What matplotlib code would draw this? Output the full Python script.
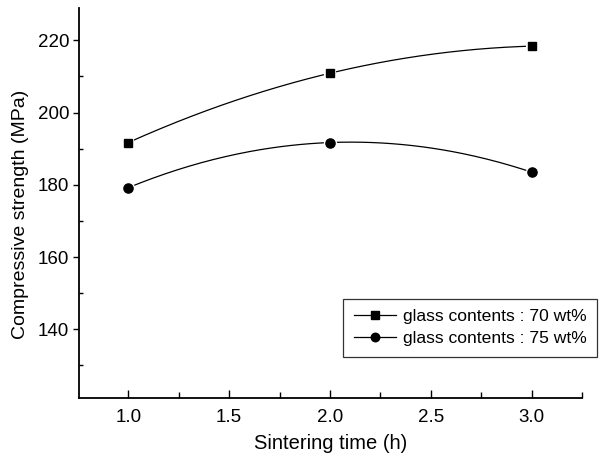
import numpy as np
import matplotlib.pyplot as plt
from matplotlib.ticker import MultipleLocator

plt.rcParams['font.family'] = ['Liberation Sans', 'DejaVu Sans']

time_h = [1.0, 2.0, 3.0]
glass70 = [191.7, 210.9, 218.4]
glass75 = [179.2, 191.7, 183.5]
labels = ['glass contents : 70 wt%', 'glass contents : 75 wt%']

fig = plt.figure(figsize=(6.07, 4.61), dpi=100)
ax = fig.add_axes([0.130, 0.137, 0.829, 0.846])

# smooth connecting curves (quadratic through the three points)
xs = np.linspace(time_h[0], time_h[-1], 200)
for vals, mk, ms, lab in [(glass70, 's', 5.8, labels[0]), (glass75, 'o', 6.6, labels[1])]:
    p = np.polyfit(time_h, vals, 2)
    ax.plot(xs, np.polyval(p, xs), color='black', lw=0.9, zorder=2)
    ax.plot(time_h, vals, ls='none', marker=mk, ms=ms, color='black',
            mec='white', mew=3.0, zorder=3)
    ax.plot(time_h, vals, ls='none', marker=mk, ms=ms, color='black', zorder=4)
    ax.plot([], [], color='black', lw=0.9, marker=mk, ms=ms - 0.5, label=lab)

ax.set_xlim(0.755, 3.25)
ax.set_ylim(121, 229)
ax.xaxis.set_major_locator(MultipleLocator(0.5))
ax.xaxis.set_minor_locator(MultipleLocator(0.25))
ax.yaxis.set_minor_locator(MultipleLocator(10))
ax.set_yticks([140, 160, 180, 200, 220])
ax.xaxis.set_major_formatter(plt.FormatStrFormatter('%.1f'))

ax.tick_params(axis='x', which='major', direction='in', length=6, width=1.0, labelsize=13.5, pad=8)
ax.tick_params(axis='x', which='minor', direction='in', length=4, width=1.0)
ax.tick_params(axis='y', which='major', direction='out', length=4, width=1.0, labelsize=13.5, pad=3)
ax.tick_params(axis='y', which='minor', direction='in', length=3, width=1.0)

for s in ['top', 'right']:
    ax.spines[s].set_visible(False)
for s in ['left', 'bottom']:
    ax.spines[s].set_linewidth(1.3)

ax.set_xlabel('Sintering time (h)', fontsize=14.5, labelpad=6)
ax.set_ylabel('Compressive strength (MPa)', fontsize=14)
ax.yaxis.set_label_coords(-0.10, 0.47)

leg = ax.legend(loc='lower right', bbox_to_anchor=(1.03, 0.105), fontsize=12.6,
                frameon=True, fancybox=False, edgecolor='black', handlelength=2.4,
                handletextpad=0.4, borderpad=0.6, labelspacing=0.38,
                borderaxespad=0)
leg.get_frame().set_linewidth(0.9)

fig.savefig('out.png', dpi=100)
